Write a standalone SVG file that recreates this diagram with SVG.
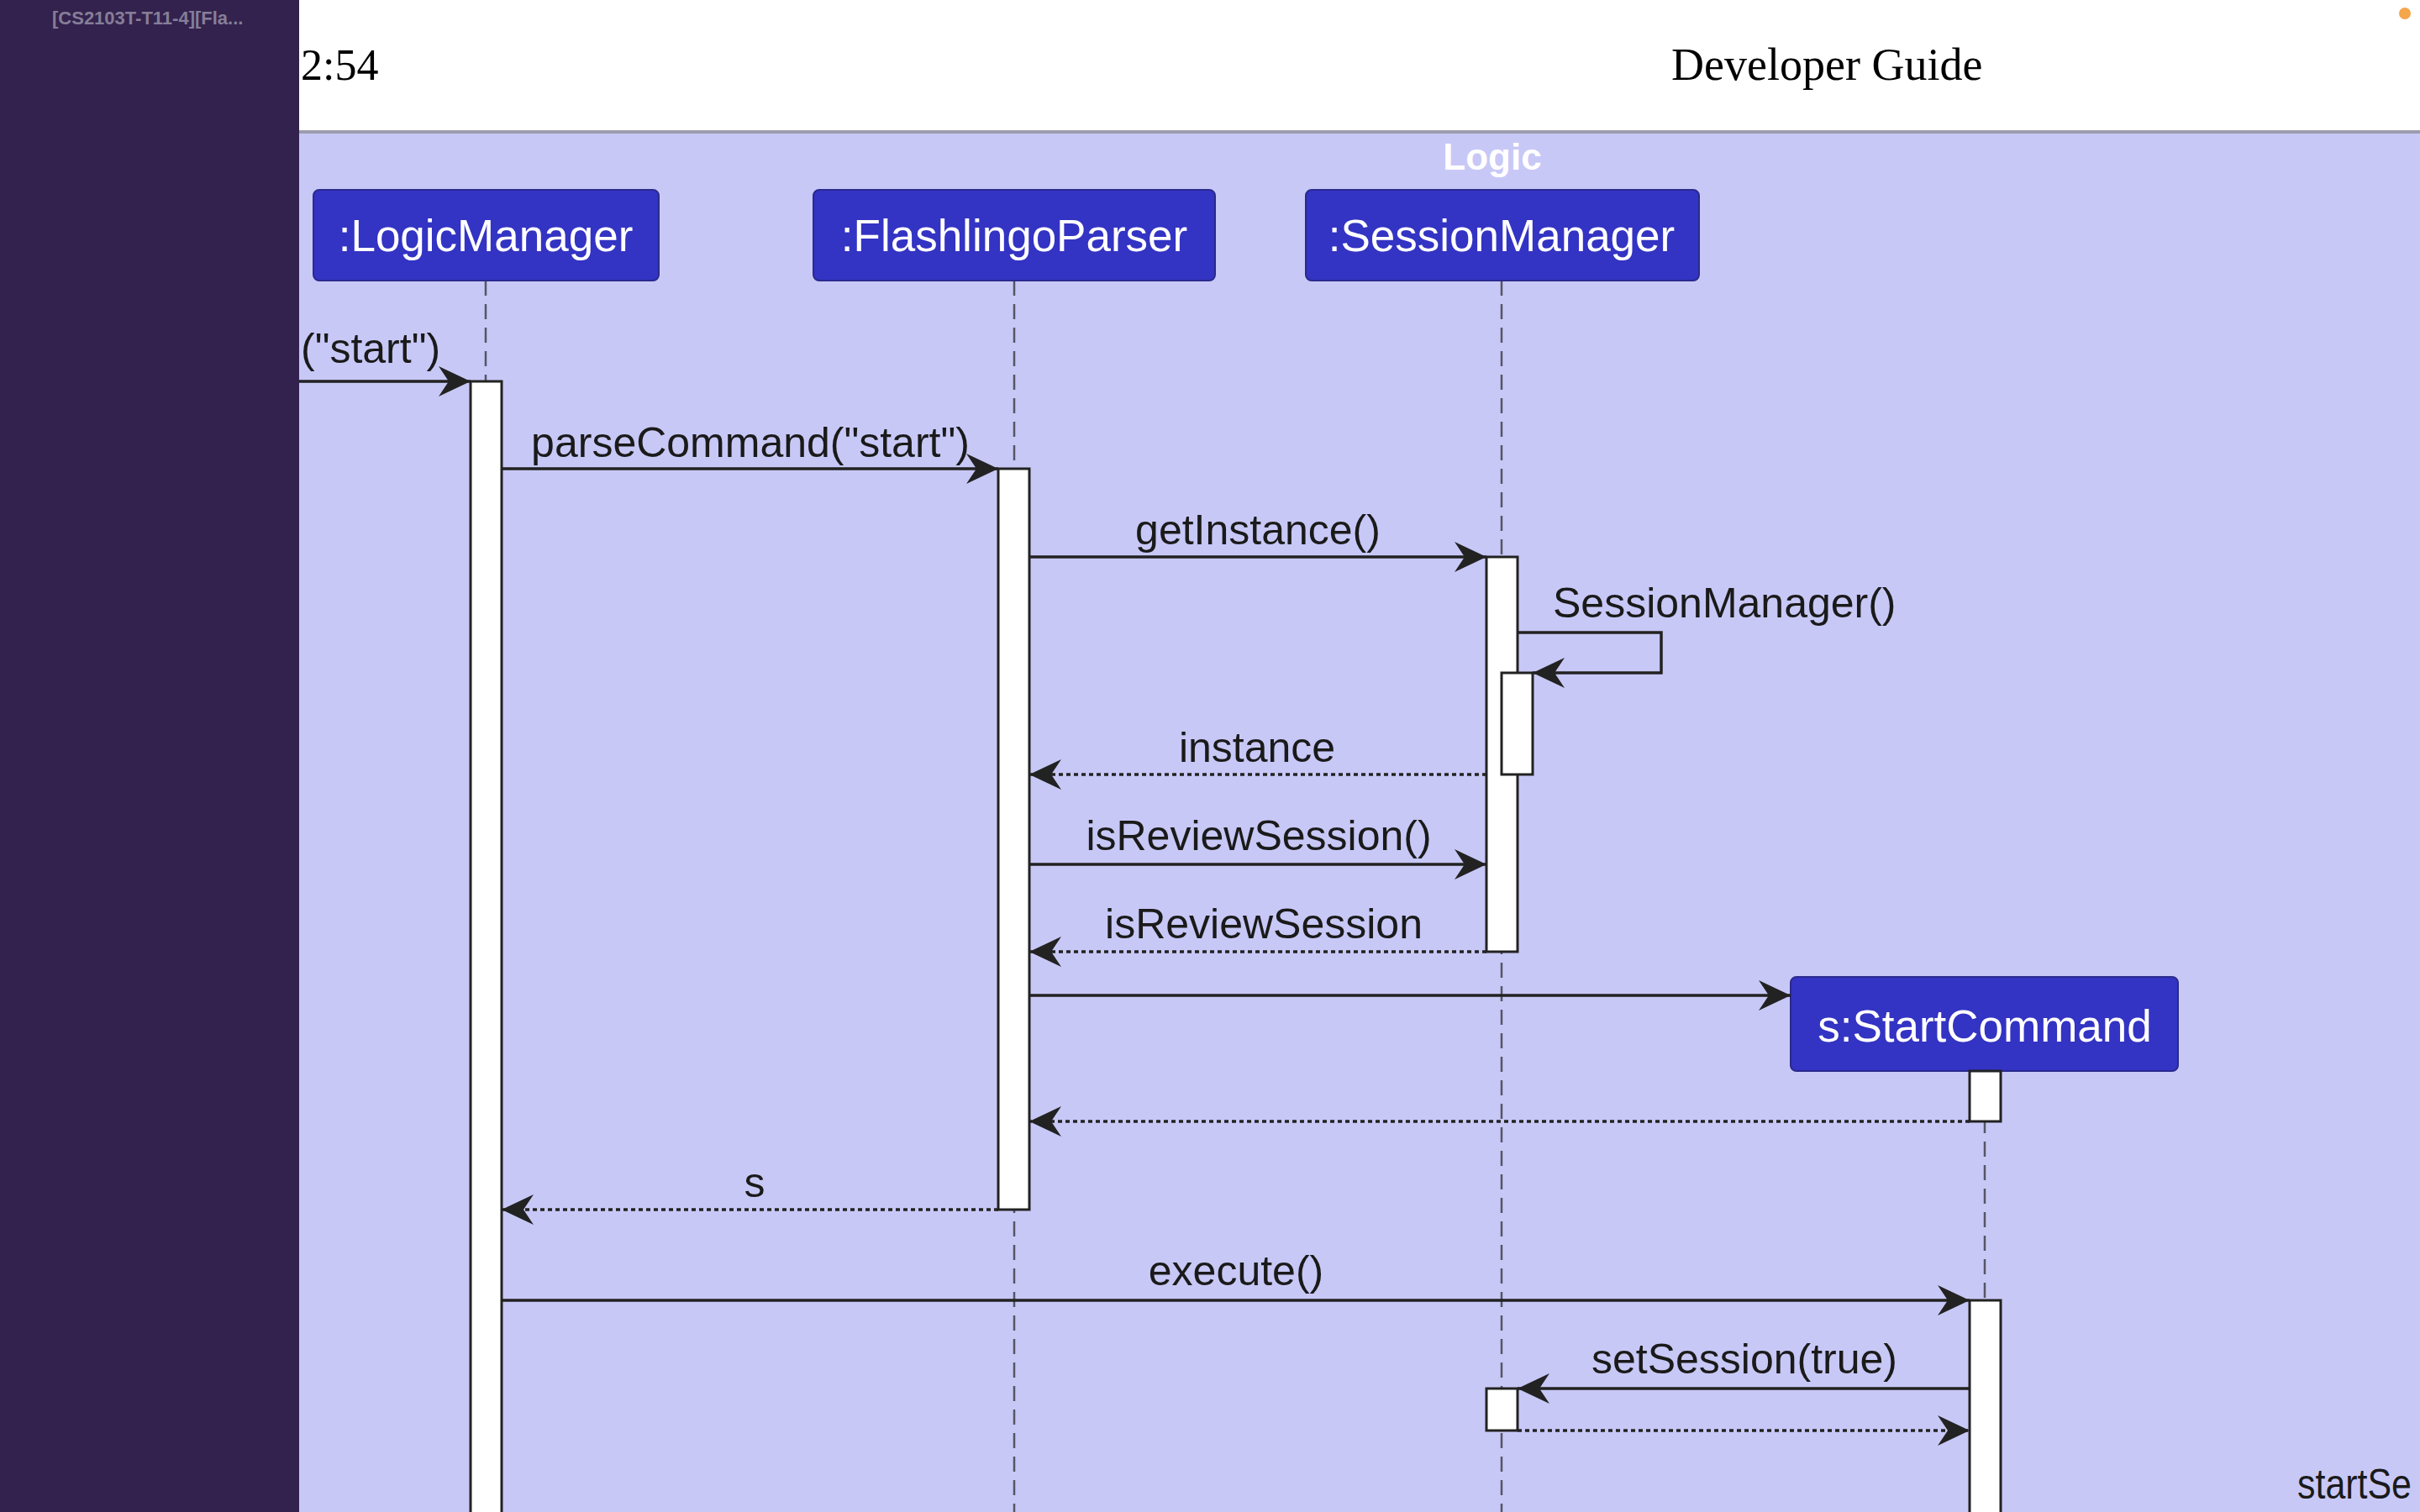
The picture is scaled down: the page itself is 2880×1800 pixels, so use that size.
<svg xmlns="http://www.w3.org/2000/svg" width="2880" height="1800" viewBox="0 0 2880 1800">
<style>
.bg{fill:#C8C8F7}
.part .box{fill:#3333C4;stroke:#2A2A8E;stroke-width:2}
.part text{fill:#FFFFFF;font-family:"Liberation Sans",Arial,sans-serif;font-size:53px;text-anchor:middle}
.life{stroke:#555566;stroke-width:2.5;stroke-dasharray:18 10;fill:none}
.part .act{fill:#FFFFFF;stroke:#222222;stroke-width:3}
.msg{stroke:#222222;stroke-width:3.5;fill:none}
.ret{stroke:#222222;stroke-width:3.5;fill:none;stroke-dasharray:5 4}
.lbl{fill:#1A1A1A;font-family:"Liberation Sans",Arial,sans-serif;font-size:50px;text-anchor:middle}
.lbl.start{text-anchor:start}
</style>
<defs>
<marker id="ah" markerUnits="userSpaceOnUse" viewBox="-40 -20 42 40" refX="0" refY="0" markerWidth="42" markerHeight="40" orient="auto">
<path d="M0,0 L-38,-18 L-26,0 L-38,18 Z" fill="#222222"/>
</marker>
</defs>
<!-- page -->
<rect x="0" y="0" width="2880" height="1800" fill="#FFFFFF"/>
<rect class="bg" x="356" y="158" width="2524" height="1642"/>
<rect x="356" y="155" width="2524" height="4" fill="#9C9CAE"/>
<text x="358" y="95" font-family="'Liberation Serif','Times New Roman',serif" font-size="52" fill="#000">2:54</text>
<text x="1989" y="95" font-family="'Liberation Serif','Times New Roman',serif" font-size="54" fill="#000">Developer Guide</text>
<circle cx="2862" cy="16" r="7" fill="#F5A54A"/>
<text x="1776" y="202" font-family="'Liberation Sans',Arial,sans-serif" font-size="44" font-weight="bold" fill="#FFFFFF" text-anchor="middle">Logic</text>

<!-- lifelines -->
<g id="lifelines">
<line class="life" x1="578" y1="334" x2="578" y2="1800"/>
<line class="life" x1="1207" y1="334" x2="1207" y2="1800"/>
<line class="life" x1="1787" y1="334" x2="1787" y2="1800"/>
<line class="life" x1="2362" y1="1275" x2="2362" y2="1800"/>
</g>

<g id="LogicManager" class="part">
<rect class="box" x="373" y="226" width="411" height="108" rx="7"/>
<text x="578" y="299">:LogicManager</text>
<rect class="act" x="560" y="454" width="37" height="1360"/>
</g>
<g id="FlashlingoParser" class="part">
<rect class="box" x="968" y="226" width="478" height="108" rx="7"/>
<text x="1207" y="299">:FlashlingoParser</text>
<rect class="act" x="1188" y="558" width="37" height="882"/>
</g>
<g id="SessionManager" class="part">
<rect class="box" x="1554" y="226" width="468" height="108" rx="7"/>
<text x="1787" y="299">:SessionManager</text>
<rect class="act" x="1769" y="663" width="37" height="470"/>
<rect class="act" x="1787" y="801" width="37" height="121"/>
<rect class="act" x="1769" y="1653" width="37" height="50"/>
</g>
<g id="StartCommand" class="part">
<rect class="box" x="2131" y="1163" width="461" height="112" rx="7"/>
<text x="2362" y="1240">s:StartCommand</text>
<rect class="act" x="2344" y="1275" width="37" height="60"/>
<rect class="act" x="2344" y="1548" width="37" height="270"/>
</g>

<g id="connectors">
<line class="msg" x1="340" y1="454" x2="560" y2="454" marker-end="url(#ah)"/>
<text class="lbl start" x="358" y="432">("start")</text>
<line class="msg" x1="597" y1="558" x2="1188" y2="558" marker-end="url(#ah)"/>
<text class="lbl" x="893" y="544">parseCommand("start")</text>
<line class="msg" x1="1225" y1="663" x2="1769" y2="663" marker-end="url(#ah)"/>
<text class="lbl" x="1497" y="648">getInstance()</text>
<path class="msg" d="M1806,753 H1977 V801 H1824" marker-end="url(#ah)"/>
<text class="lbl start" x="1848" y="735">SessionManager()</text>
<line class="ret" x1="1769" y1="922" x2="1225" y2="922" marker-end="url(#ah)"/>
<text class="lbl" x="1496" y="907">instance</text>
<line class="msg" x1="1225" y1="1029" x2="1769" y2="1029" marker-end="url(#ah)"/>
<text class="lbl" x="1498" y="1012">isReviewSession()</text>
<line class="ret" x1="1769" y1="1133" x2="1225" y2="1133" marker-end="url(#ah)"/>
<text class="lbl" x="1504" y="1117">isReviewSession</text>
<line class="msg" x1="1225" y1="1185" x2="2131" y2="1185" marker-end="url(#ah)"/>
<line class="ret" x1="2344" y1="1335" x2="1225" y2="1335" marker-end="url(#ah)"/>
<line class="ret" x1="1188" y1="1440" x2="597" y2="1440" marker-end="url(#ah)"/>
<text class="lbl" x="898" y="1425">s</text>
<line class="msg" x1="597" y1="1548" x2="2344" y2="1548" marker-end="url(#ah)"/>
<text class="lbl" x="1471" y="1530">execute()</text>
<line class="msg" x1="2344" y1="1653" x2="1806" y2="1653" marker-end="url(#ah)"/>
<text class="lbl" x="2076" y="1635">setSession(true)</text>
<line class="ret" x1="1806" y1="1703" x2="2344" y2="1703" marker-end="url(#ah)"/>
<text class="lbl start" x="2734" y="1784" textLength="136" lengthAdjust="spacingAndGlyphs">startSe</text>
</g>

<!-- sidebar -->
<rect x="0" y="0" width="356" height="1800" fill="#33224D"/>
<text x="62" y="29" font-family="'Liberation Sans',Arial,sans-serif" font-size="22" font-weight="bold" fill="#857E98">[CS2103T-T11-4][Fla...</text>
</svg>
